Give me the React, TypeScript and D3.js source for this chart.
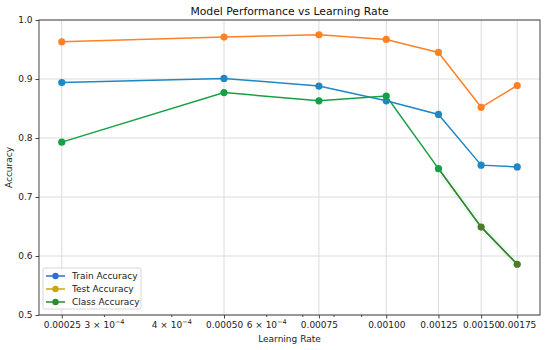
import React, { useEffect, useRef } from "react";
import * as d3 from "d3";

const learningRates = [0.00025, 0.0005, 0.00075, 0.001, 0.00125, 0.0015, 0.00175];
const trainAccuracy = [0.894, 0.901, 0.888, 0.863, 0.84, 0.754, 0.751];
const testAccuracy = [0.963, 0.971, 0.975, 0.967, 0.945, 0.852, 0.889];
const classAccuracy = [0.793, 0.877, 0.863, 0.871, 0.748, 0.649, 0.586];
const yTicks = [0.5, 0.6, 0.7, 0.8, 0.9, 1.0];
const minorTicks = [3e-4, 4e-4, 6e-4, 7e-4, 8e-4, 9e-4];
const minorLabelled = [3, 4, 6];

const seriesList = [
  { name: "Train Accuracy", values: trainAccuracy, color: "#1f87c4", legend: "#2f6fd2" },
  { name: "Test Accuracy", values: testAccuracy, color: "#ff8127", legend: "#c9a80c" },
  { name: "Class Accuracy", values: classAccuracy, color: "#17a043", legend: "#2f8a34" },
];

const width = 550;
const height = 350;
const margin = { top: 20, right: 10, bottom: 35, left: 39 };

const App = () => {
  const ref: any = useRef(null);

  useEffect(() => {
    const svg = d3.select(ref.current);
    svg.selectAll("*").remove();
    const font = "DejaVu Sans, sans-serif";

    const innerW = width - margin.left - margin.right;
    const innerH = height - margin.top - margin.bottom;

    // log x with matplotlib-like 5% margins
    const lx = learningRates.map((d) => Math.log10(d));
    const pad = (d3.max(lx)! - d3.min(lx)!) * 0.05;
    const xScale = d3
      .scaleLog()
      .domain([Math.pow(10, d3.min(lx)! - pad), Math.pow(10, d3.max(lx)! + pad)])
      .range([0, innerW]);
    const yScale = d3.scaleLinear().domain([0.5, 1.0]).range([innerH, 0]);

    const ctr = svg.append("g").attr("transform", `translate(${margin.left},${margin.top})`);

    // grid
    ctr
      .append("g")
      .selectAll("line")
      .data(learningRates)
      .join("line")
      .attr("x1", (d) => xScale(d))
      .attr("x2", (d) => xScale(d))
      .attr("y1", 0)
      .attr("y2", innerH)
      .attr("stroke", "#dcdcdc")
      .attr("stroke-width", 1);
    ctr
      .append("g")
      .selectAll("line")
      .data(yTicks)
      .join("line")
      .attr("x1", 0)
      .attr("x2", innerW)
      .attr("y1", (d) => yScale(d))
      .attr("y2", (d) => yScale(d))
      .attr("stroke", "#dcdcdc")
      .attr("stroke-width", 1);

    // lines
    const line = d3
      .line<number>()
      .x((_, i) => xScale(learningRates[i]))
      .y((d) => yScale(d));

    seriesList.forEach((s) => {
      ctr
        .append("path")
        .datum(s.values)
        .attr("d", line)
        .attr("fill", "none")
        .attr("stroke", s.color)
        .attr("stroke-width", 1.5);
    });

    // darker tail on the class curve, as in the picture
    const tail = classAccuracy.slice(4);
    const tailLine = d3
      .line<number>()
      .x((_, i) => xScale(learningRates[i + 4]))
      .y((d) => yScale(d));
    ctr
      .append("path")
      .datum(tail)
      .attr("d", tailLine)
      .attr("fill", "none")
      .attr("stroke", "#e6fbf6")
      .attr("stroke-width", 7)
      .attr("opacity", 0.8)
      .lower();
    ctr
      .append("path")
      .datum(tail)
      .attr("d", tailLine)
      .attr("fill", "none")
      .attr("stroke", "#4b7d27")
      .attr("stroke-width", 1.5);

    seriesList.forEach((s) => {
      ctr
        .append("g")
        .selectAll("circle")
        .data(s.values)
        .join("circle")
        .attr("cx", (_, i) => xScale(learningRates[i]))
        .attr("cy", (d) => yScale(d))
        .attr("r", 3.6)
        .attr("fill", (_, i) => (s.name === "Class Accuracy" && i >= 5 ? "#4b7d27" : s.color));
    });

    // frame
    ctr
      .append("rect")
      .attr("width", innerW)
      .attr("height", innerH)
      .attr("fill", "none")
      .attr("stroke", "#444")
      .attr("stroke-width", 1);

    // X axis: major ticks
    const xAxis = d3
      .axisBottom(xScale)
      .tickValues(learningRates)
      .tickFormat((d: any) => d3.format(".5f")(d))
      .tickSize(3.5)
      .tickSizeOuter(0);
    const gx = ctr.append("g").attr("transform", `translate(0,${innerH})`).call(xAxis);
    gx.select(".domain").remove();
    gx.selectAll("line").attr("stroke", "#444");
    gx.selectAll("text").attr("font-family", font).attr("font-size", 9).attr("fill", "#222");

    // minor ticks
    const gm = ctr.append("g").attr("transform", `translate(0,${innerH})`);
    gm.selectAll("line")
      .data(minorTicks)
      .join("line")
      .attr("x1", (d) => xScale(d))
      .attr("x2", (d) => xScale(d))
      .attr("y1", 0)
      .attr("y2", 2)
      .attr("stroke", "#444");
    minorLabelled.forEach((m) => {
      const t = gm
        .append("text")
        .attr("x", xScale(m * 1e-4))
        .attr("y", 13)
        .attr("text-anchor", "middle")
        .attr("font-family", font)
        .attr("font-size", 9)
        .attr("fill", "#222");
      t.append("tspan").text(`${m} × 10`);
      t.append("tspan").attr("dy", -4).attr("font-size", 6.5).text("−4");
    });

    // Y axis
    const yAxis = d3
      .axisLeft(yScale)
      .tickValues(yTicks)
      .tickFormat((d: any) => d3.format(".1f")(d))
      .tickSize(3.5)
      .tickSizeOuter(0);
    const gy = ctr.append("g").call(yAxis);
    gy.select(".domain").remove();
    gy.selectAll("line").attr("stroke", "#444");
    gy.selectAll("text").attr("font-family", font).attr("font-size", 9).attr("fill", "#222");

    // labels
    svg
      .append("text")
      .attr("x", margin.left + innerW / 2)
      .attr("y", 15)
      .attr("text-anchor", "middle")
      .attr("font-family", font)
      .attr("font-size", 10.8)
      .attr("fill", "#111")
      .text("Model Performance vs Learning Rate");
    svg
      .append("text")
      .attr("x", margin.left + innerW / 2)
      .attr("y", 342)
      .attr("text-anchor", "middle")
      .attr("font-family", font)
      .attr("font-size", 9)
      .attr("fill", "#222")
      .text("Learning Rate");
    svg
      .append("text")
      .attr("transform", `translate(12,${margin.top + innerH / 2}) rotate(-90)`)
      .attr("text-anchor", "middle")
      .attr("font-family", font)
      .attr("font-size", 9)
      .attr("fill", "#222")
      .text("Accuracy");

    // legend
    const lg = ctr.append("g").attr("transform", `translate(4,${innerH - 47})`);
    lg.append("rect")
      .attr("width", 98)
      .attr("height", 41)
      .attr("rx", 2)
      .attr("fill", "white")
      .attr("fill-opacity", 0.85)
      .attr("stroke", "#d6d6d6");
    seriesList.forEach((s, i) => {
      const row = lg.append("g").attr("transform", `translate(0,${8 + i * 13})`);
      row.append("line").attr("x1", 3).attr("x2", 22).attr("stroke", s.legend).attr("stroke-width", 1.5);
      row.append("circle").attr("cx", 12.5).attr("r", 3.2).attr("fill", s.legend);
      row
        .append("text")
        .attr("x", 29)
        .attr("dy", "0.35em")
        .attr("font-family", font)
        .attr("font-size", 9)
        .attr("fill", "#222")
        .text(s.name);
    });
  }, []);

  return (
    <svg
      ref={ref}
      width={width}
      height={height}
      style={{ position: "fixed", left: 0, top: 0, background: "white" }}
    />
  );
};

export default App;
